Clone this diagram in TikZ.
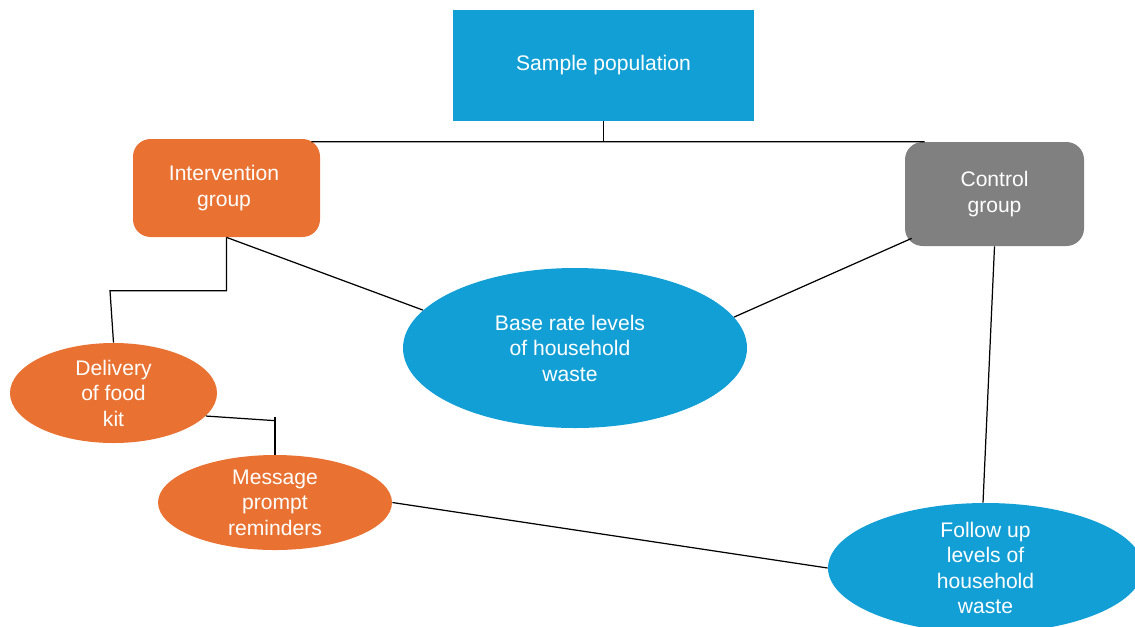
\documentclass[tikz,border=0pt]{standalone}
\usepackage{fontspec}
\setmainfont{Liberation Sans}
\usetikzlibrary{shapes.geometric, positioning}
\definecolor{colB}{RGB}{18,159,214}
\definecolor{colO}{RGB}{233,114,50}
\definecolor{colG}{RGB}{128,128,128}

\begin{document}
\begin{tikzpicture}[
    font=\fontsize{12}{14.5}\selectfont,
    box/.style={rectangle, align=center, text=white, inner sep=2pt},
    rbox/.style={box, rounded corners=10pt},
    oval/.style={ellipse, align=center, text=white, inner sep=0pt},
    link/.style={black, line width=0.7pt},
  ]

  \useasboundingbox (0,0) rectangle (22.7,-12.52);

  % ---- boxes ------------------------------------------------------------
  \node[box, fill=colB, minimum width=6.02cm, minimum height=2.22cm]
       (sample) at (12.07,-1.31) {Sample population};
  \node[rbox, fill=colO, minimum width=3.74cm, minimum height=1.96cm]
       (interv) at (4.53,-3.76) {\hspace*{-0.1cm}Intervention\\\hspace*{-0.1cm}group};
  \node[rbox, fill=colG, minimum width=3.58cm, minimum height=2.08cm]
       (ctrl) at (19.89,-3.88) {Control\\group};

  % ---- ovals ------------------------------------------------------------
  \node[oval, fill=colB, minimum width=6.88cm, minimum height=3.2cm]
       (base) at (11.5,-6.96) {\hspace*{-0.2cm}Base rate levels\\\hspace*{-0.2cm}of household\\\hspace*{-0.2cm}waste};
  \node[oval, fill=colO, minimum width=4.14cm, minimum height=2.0cm]
       (deliv) at (2.27,-7.86) {Delivery\\of food\\kit};
  \node[oval, fill=colO, minimum width=4.68cm, minimum height=1.9cm]
       (msg) at (5.5,-10.05) {Message\\prompt\\reminders};
  \node[oval, fill=colB, minimum width=6.3cm, minimum height=2.44cm]
       (follow) at (19.71,-11.36) {Follow up\\levels of\\household\\waste};

  % ---- connectors -------------------------------------------------------
  % split of the sample
  \draw[link] (sample.south) -- (sample.south |- ctrl.north);
  \draw[link] ([xshift=-0.18cm, yshift=-0.06cm]interv.north east)
              -- ([xshift=0.4cm]ctrl.north west);
  % intervention branch
  \draw[link] (interv.south) |- ([xshift=-0.07cm, yshift=1.04cm]deliv.north)
              -- (deliv.north);
  \draw[link] (interv.south) -- (base.166);
  \draw[link] (deliv.-14) -- ([yshift=0.68cm]msg.north);
  \draw[link] ([yshift=0.76cm]msg.north) -- (msg.north);
  \draw[link] (msg.east) -- (follow.west);
  % control branch
  \draw[link] ([xshift=0.14cm, yshift=0.16cm]ctrl.south west) -- (base.11);
  \draw[link] (ctrl.south) -- ([xshift=-0.05cm]follow.north);

\end{tikzpicture}
\end{document}
